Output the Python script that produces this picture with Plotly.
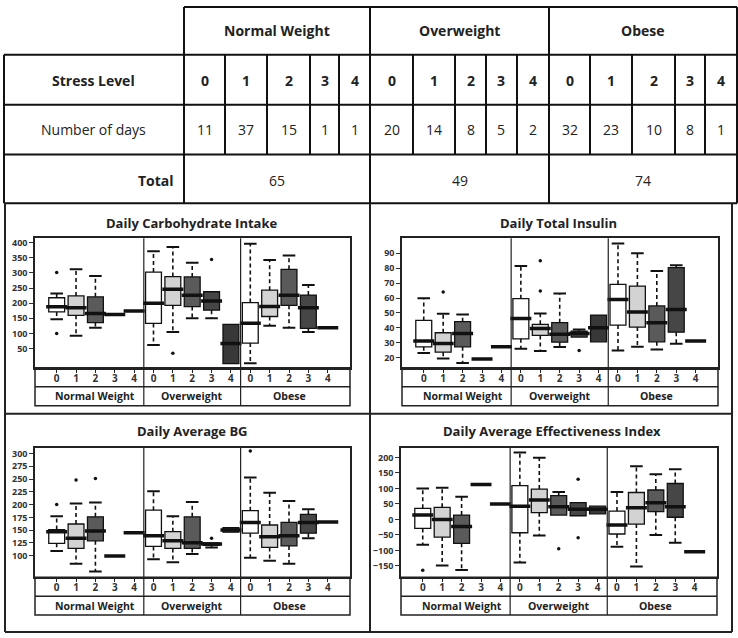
import plotly.graph_objects as go

W, H = 738, 638
def fx(x): return x / W
def fy(y): return 1 - y / H

# ---------------- data ----------------
weight_groups = ["Normal Weight", "Overweight", "Obese"]
stress_levels = ["0", "1", "2", "3", "4"]
days = [11, 37, 15, 1, 1, 20, 14, 8, 5, 2, 32, 23, 10, 8, 1]
totals = [65, 49, 74]

# order of 15 boxes: NW0..NW4, OW0..OW4, OB0..OB4
carb_lo  = [147, 92, 119, 163, 174, 62, 105, 150, 150, 0, 1, 125, 119, 105, 119]
carb_q1  = [171, 160, 136, 163, 174, 133, 193, 189, 177, 0, 68, 156, 193, 117, 119]
carb_med = [188, 185, 166, 163, 174, 200, 246, 226, 207, 67, 134, 189, 226, 185, 119]
carb_q3  = [218, 224, 221, 163, 174, 303, 288, 287, 238, 130, 202, 243, 312, 227, 119]
carb_hi  = [232, 312, 290, 163, 174, 372, 386, 334, 238, 130, 397, 343, 358, 260, 119]
carb_out_pos = [0, 0, 6, 8]
carb_out_val = [302, 100, 34, 345]
carb_ticks = [50, 100, 150, 200, 250, 300, 350, 400]

ins_lo  = [23.3, 19.5, 16.6, 19.3, 27.4, 26.0, 24.5, 27.2, 33.9, 30.7, 24.9, 27.4, 25.6, 29.4, 31.2]
ins_q1  = [27.4, 23.8, 27.4, 19.3, 27.4, 32.7, 35.0, 30.5, 33.9, 30.7, 41.9, 40.6, 30.7, 37.2, 31.2]
ins_med = [31.2, 29.6, 36.3, 19.3, 27.4, 46.4, 39.7, 35.7, 36.3, 40.1, 59.1, 50.6, 43.5, 52.4, 31.2]
ins_q3  = [45.0, 36.8, 44.2, 19.3, 27.4, 59.6, 42.4, 43.5, 37.9, 48.6, 69.2, 68.0, 54.7, 80.4, 31.2]
ins_hi  = [59.8, 49.5, 49.0, 19.3, 27.4, 81.5, 49.7, 63.0, 39.0, 48.6, 96.5, 90.0, 78.1, 82.0, 31.2]
ins_out_pos = [1, 6, 6, 8]
ins_out_val = [64, 84.9, 64.7, 24.9]
ins_ticks = [20, 30, 40, 50, 60, 70, 80, 90]

bg_lo  = [109, 84, 69, 99, 145, 93, 87, 103, 116, 146, 96, 90, 84, 134, 166]
bg_q1  = [124, 114, 129, 99, 145, 118, 114, 114, 120, 146, 144, 116, 119, 144, 166]
bg_med = [147, 134, 148, 99, 145, 139, 129, 125, 123, 150, 165, 137, 139, 165, 166]
bg_q3  = [151, 162, 176, 99, 145, 189, 147, 176, 125, 155, 188, 160, 165, 181, 166]
bg_hi  = [177, 202, 204, 99, 145, 226, 177, 205, 125, 155, 253, 223, 207, 191, 166]
bg_out_pos = [0, 1, 2, 8, 10]
bg_out_val = [200, 248, 251, 134, 305]
bg_ticks = [100, 125, 150, 175, 200, 225, 250, 275, 300]

eff_lo  = [-82, -149, -163, 113, 50, -139, -52, 14, 12, 18, -88, -152, -50, -75, -104]
eff_q1  = [-29, -57, -77, 113, 50, -43, 22, 14, 12, 18, -47, -15, 25, 7, -104]
eff_med = [14, 0, -23, 113, 50, 43, 63, 41, 33, 33, -18, 38, 54, 41, -104]
eff_q3  = [36, 39, 14, 113, 50, 109, 98, 77, 54, 43, 27, 87, 95, 116, -104]
eff_hi  = [100, 102, 73, 113, 50, 216, 199, 89, 54, 43, 89, 172, 146, 162, -104]
eff_out_pos = [0, 7, 8, 8]
eff_out_val = [-164, -95, 130, -59]
eff_ticks = [-150, -100, -50, 0, 50, 100, 150, 200]

# ---------------- styles ----------------
level_colors = ["#ffffff", "#d3d3d3", "#5a5a5a", "#464646", "#383838"]
TFONT = "Open Sans"
PFONT = "Open Sans"
INK = "#222222"

fig = go.Figure()
shapes = []
annotations = []

def hline(x0, x1, y, w=2, c="#111111"):
    shapes.append(dict(type="line", xref="paper", yref="paper", x0=fx(x0), x1=fx(x1),
                       y0=fy(y), y1=fy(y), line=dict(color=c, width=w)))

def vline(x, y0, y1, w=2, c="#111111"):
    shapes.append(dict(type="line", xref="paper", yref="paper", x0=fx(x), x1=fx(x),
                       y0=fy(y0), y1=fy(y1), line=dict(color=c, width=w)))

def text(x, y, s, size=14, bold=False, xanchor="center", family=TFONT, color=INK):
    annotations.append(dict(xref="paper", yref="paper", x=fx(x), y=fy(y), text=s,
                            showarrow=False, xanchor=xanchor, yanchor="middle",
                            font=dict(family=family, size=size, color=color,
                                      weight="bold" if bold else "normal")))

# ---------------- table ----------------
col_edges = [184, 225, 267, 310, 339, 370, 413, 455, 486, 517, 549, 590, 632, 675, 705, 737]
group_edges = [184, 370, 549, 737]
row_edges = [5, 53, 103, 153, 202]

hline(184, 737, row_edges[0])
for y in row_edges[1:]:
    hline(4, 737, y)
vline(4, row_edges[1], row_edges[4])
for x in group_edges:
    vline(x, row_edges[0], row_edges[4])
for x in col_edges:
    vline(x, row_edges[1], row_edges[3])

for g, name in enumerate(weight_groups):
    cx = (group_edges[g] + group_edges[g + 1]) / 2
    text(cx, 29, name, size=14, bold=True)
    text(cx, 179, str(totals[g]), size=14)

text(93, 79, "Stress Level", size=14, bold=True)
text(93, 128, "Number of days", size=14)
text(176, 179, "Total", size=14, bold=True, xanchor="right")
for i in range(15):
    cx = (col_edges[i] + col_edges[i + 1]) / 2
    text(cx, 79, stress_levels[i % 5], size=14, bold=True)
    text(cx, 128, str(days[i]), size=14)

# ---------------- panel frames ----------------
FR = "#222222"
hline(5, 732, 632, w=2, c=FR)
hline(5, 732, 413, w=2, c=FR)
vline(5, 202, 632, w=2, c=FR)
vline(732, 202, 632, w=2, c=FR)
vline(370, 202, 632, w=2, c=FR)

# ---------------- panels ----------------
panels = [
    dict(title="Daily Carbohydrate Intake", lo=carb_lo, q1=carb_q1, med=carb_med, q3=carb_q3, hi=carb_hi,
         op=carb_out_pos, ov=carb_out_val, ticks=carb_ticks, yr=[-14, 415],
         x0=35, x1=350, y0=237, y1=367, tx=192, ty=222),
    dict(title="Daily Total Insulin", lo=ins_lo, q1=ins_q1, med=ins_med, q3=ins_q3, hi=ins_hi,
         op=ins_out_pos, ov=ins_out_val, ticks=ins_ticks, yr=[13.3, 100],
         x0=402, x1=718, y0=237, y1=367, tx=558, ty=222),
    dict(title="Daily Average BG", lo=bg_lo, q1=bg_q1, med=bg_med, q3=bg_q3, hi=bg_hi,
         op=bg_out_pos, ov=bg_out_val, ticks=bg_ticks, yr=[57.7, 311.7],
         x0=35, x1=350, y0=447, y1=577, tx=192, ty=430),
    dict(title="Daily Average Effectiveness Index", lo=eff_lo, q1=eff_q1, med=eff_med, q3=eff_q3, hi=eff_hi,
         op=eff_out_pos, ov=eff_out_val, ticks=eff_ticks, yr=[-186.5, 232],
         x0=401, x1=717, y0=447, y1=577, tx=552, ty=430),
]

layout_axes = {}
BOXW = 0.82
for k, p in enumerate(panels):
    n = k + 1
    xa = "x" if n == 1 else f"x{n}"
    ya = "y" if n == 1 else f"y{n}"
    # boxes, one trace per stress level
    for L in range(5):
        idx = [g * 5 + L for g in range(3)]
        fig.add_trace(go.Box(
            x=idx, q1=[p["q1"][i] for i in idx], median=[p["med"][i] for i in idx],
            q3=[p["q3"][i] for i in idx], lowerfence=[p["q1"][i] for i in idx],
            upperfence=[p["q3"][i] for i in idx], width=BOXW, whiskerwidth=0,
            fillcolor=level_colors[L], line=dict(color="#111111", width=1.3),
            boxpoints=False, xaxis=xa, yaxis=ya, showlegend=False, hoverinfo="skip"))
    # dashed whiskers
    wx, wy = [], []
    cx, cy = [], []
    for i in range(15):
        if p["hi"][i] > p["q3"][i]:
            wx += [i, i, None]; wy += [p["q3"][i], p["hi"][i], None]
            cx.append(i); cy.append(p["hi"][i])
        if p["lo"][i] < p["q1"][i]:
            wx += [i, i, None]; wy += [p["q1"][i], p["lo"][i], None]
            cx.append(i); cy.append(p["lo"][i])
    fig.add_trace(go.Scatter(x=wx, y=wy, mode="lines", xaxis=xa, yaxis=ya,
                             line=dict(color="#111111", width=1.6, dash="4px,3px"),
                             showlegend=False, hoverinfo="skip"))
    fig.add_trace(go.Scatter(x=cx, y=cy, mode="markers", xaxis=xa, yaxis=ya,
                             marker=dict(symbol="line-ew", size=9, line=dict(color="#111111", width=2)),
                             showlegend=False, hoverinfo="skip"))
    # thick medians
    fig.add_trace(go.Scatter(x=list(range(15)), y=p["med"], mode="markers", xaxis=xa, yaxis=ya,
                             marker=dict(symbol="line-ew", size=15, line=dict(color="#111111", width=3.5)),
                             showlegend=False, hoverinfo="skip"))
    # outliers
    fig.add_trace(go.Scatter(x=p["op"], y=p["ov"], mode="markers", xaxis=xa, yaxis=ya,
                             marker=dict(symbol="circle", size=3.5, color="#111111"),
                             showlegend=False, hoverinfo="skip"))

    axkey = "xaxis" if n == 1 else f"xaxis{n}"
    aykey = "yaxis" if n == 1 else f"yaxis{n}"
    layout_axes[axkey] = dict(domain=[fx(p["x0"]), fx(p["x1"])], anchor=ya, range=[-1.12, 15.15],
                              tickvals=list(range(15)), ticktext=stress_levels * 3,
                              ticks="outside", ticklen=3, tickcolor="#222", tickwidth=1.2,
                              ticklabelstandoff=-3,
                              tickfont=dict(family=PFONT, size=10, color="#333", weight="bold"),
                              showline=True, mirror=True, linecolor="#222", linewidth=1.5,
                              showgrid=False, zeroline=False, fixedrange=True)
    layout_axes[aykey] = dict(domain=[fy(p["y1"]), fy(p["y0"])], anchor=xa, range=p["yr"],
                              tickvals=p["ticks"], ticks="outside", ticklen=4, tickcolor="#333",
                              tickfont=dict(family=PFONT, size=9, color="#333", weight="bold"),
                              showline=True, mirror=True, linecolor="#222", linewidth=1.5,
                              showgrid=False, zeroline=False, fixedrange=True)
    # label rows below the plot
    r1 = p["y1"] + 19
    r2 = p["y1"] + 38
    shapes.append(dict(type="rect", xref="paper", yref="paper", x0=fx(p["x0"]), x1=fx(p["x1"]),
                       y0=fy(r2), y1=fy(p["y1"]), line=dict(color="#222", width=1.5)))
    hline(p["x0"], p["x1"], r1, w=1.5, c="#222")
    for sep in [4.5, 9.5]:
        shapes.append(dict(type="line", xref=xa, yref="paper", x0=sep, x1=sep,
                           y0=fy(p["y0"]), y1=fy(r2), line=dict(color="#222", width=1.2)))
    for g, name in enumerate(weight_groups):
        annotations.append(dict(xref=xa, yref="paper", x=g * 5 + 2, y=fy((r1 + r2) / 2),
                                text=name, showarrow=False, yanchor="middle",
                                font=dict(family=PFONT, size=10.5, color="#222", weight="bold")))
    text(p["tx"], p["ty"], p["title"], size=13, bold=True, family=PFONT, color="#222")

fig.update_layout(width=W, height=H, margin=dict(l=0, r=0, t=0, b=0),
                  paper_bgcolor="white", plot_bgcolor="white", boxmode="overlay",
                  shapes=shapes, annotations=annotations, showlegend=False, **layout_axes)

fig.write_html("out.html", config={"displayModeBar": False},
               post_script="document.body.style.margin='0';")
